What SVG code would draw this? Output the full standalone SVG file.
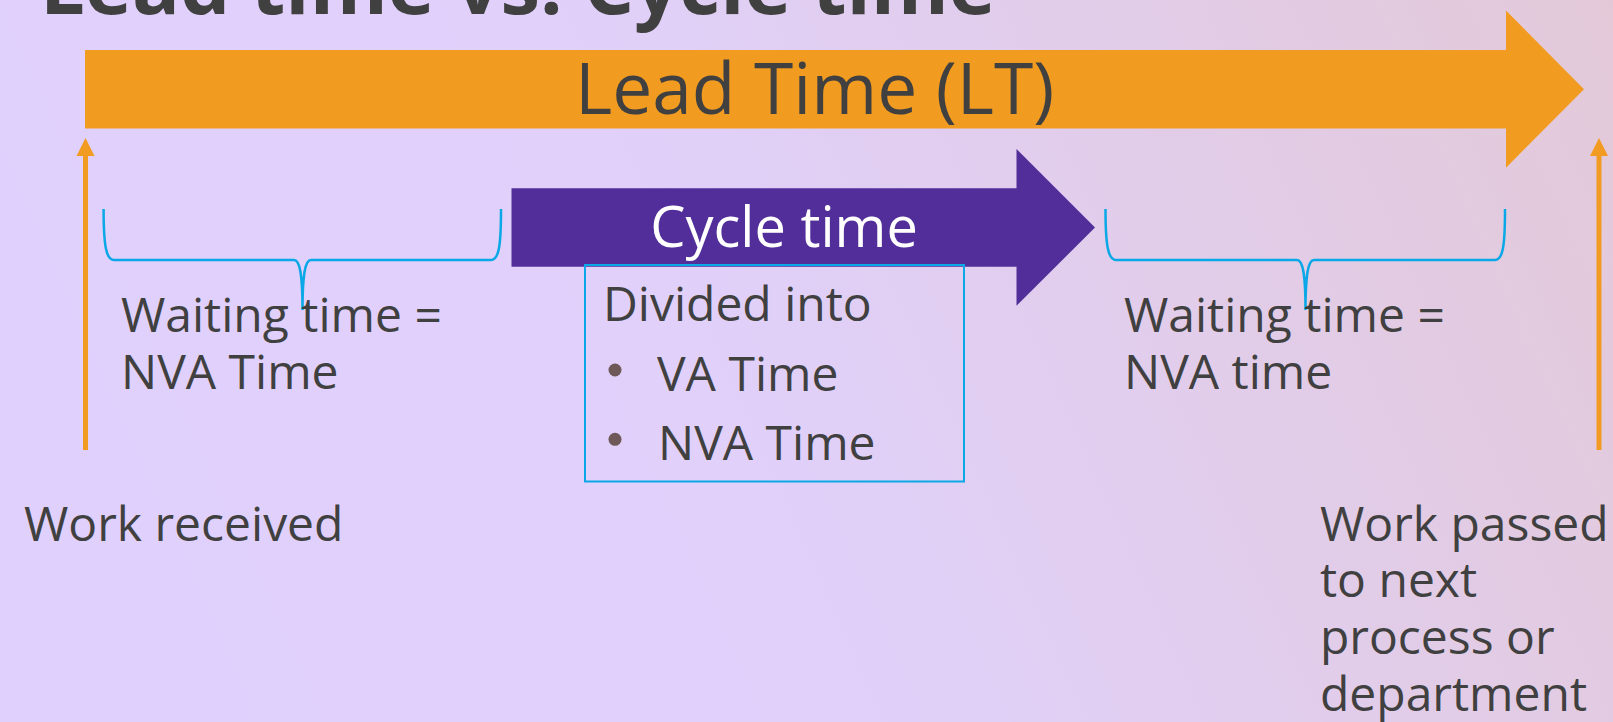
<svg xmlns="http://www.w3.org/2000/svg" width="1613" height="722" viewBox="0 0 1613 722">
<defs>
<linearGradient id="bg" x1="0" y1="722" x2="1613" y2="0" gradientUnits="userSpaceOnUse">
<stop offset="0" stop-color="#E0D0FD"/>
<stop offset="0.45" stop-color="#E0D0FA"/>
<stop offset="1" stop-color="#E3C9D8"/>
</linearGradient>
<style>
.t{font-family:"Open Sans","Noto Sans","Liberation Sans",sans-serif;fill:#404040;font-size:48px}
.brace{fill:none;stroke:#0AA8E6;stroke-width:2.5}
.vline{stroke:#F29B22;stroke-width:5}
.vhead{fill:#F29B22}
</style>
</defs>
<rect width="1613" height="722" fill="url(#bg)"/>
<text x="40" y="14" class="t" style="font-size:79.5px;font-weight:700" fill="#3F3F3F">Lead time vs. Cycle time</text>
<g id="lead-time">
<polygon points="85,50 1506,50 1506,10.5 1584,89.3 1506,167.7 1506,128.5 85,128.5" fill="#F29B21"/>
<text x="575" y="114" class="t" style="font-size:71.3px">Lead Time (LT)</text>
</g>
<g id="cycle-time">
<polygon points="511.5,188.3 1016.5,188.3 1016.5,149 1095,227.5 1016.5,305.7 1016.5,266.7 511.5,266.7" fill="#522E9A"/>
<text x="784" y="246.5" class="t" style="font-size:56px;fill:#FFFFFF" text-anchor="middle">Cycle time</text>
</g>
<g id="cycle-detail">
<rect x="585" y="265" width="379" height="216.5" fill="none" stroke="#0AA8E6" stroke-width="2"/>
<text x="603" y="320.5" class="t">Divided into</text>
<circle cx="615" cy="370" r="6.5" fill="#6F5858"/>
<text x="657" y="391" class="t">VA Time</text>
<circle cx="615" cy="439.3" r="6.5" fill="#6F5858"/>
<text x="658" y="460" class="t">NVA Time</text>
</g>
<g id="wait-left">
<path class="brace" d="M103.6,209 C103.6,245 106,260 114,260 L294,260 C300,260 302.5,275 302.5,310 C302.5,275 305,260 311,260 L491,260 C499,260 501,245 501,209"/>
<text x="121" y="331.5" class="t">Waiting time =</text>
<text x="121" y="388.5" class="t">NVA Time</text>
</g>
<g id="wait-right">
<path class="brace" d="M1105.5,209 C1105.5,245 1108,260 1116,260 L1297,260 C1303,260 1305.5,275 1305.5,310 C1305.5,275 1308,260 1314,260 L1495,260 C1503,260 1505,245 1505,209"/>
<text x="1124" y="331.5" class="t">Waiting time =</text>
<text x="1124" y="388.5" class="t">NVA time</text>
</g>
<g id="connectors">
<line class="vline" x1="85.5" y1="450" x2="85.5" y2="154"/>
<polygon class="vhead" points="85.5,138 94.5,156 76.5,156"/>
<line class="vline" x1="1599" y1="450" x2="1599" y2="154"/>
<polygon class="vhead" points="1599,138 1608,156 1590,156"/>
</g>
<g id="work-received">
<text x="24" y="540.5" class="t">Work received</text>
</g>
<g id="work-passed">
<text class="t"><tspan x="1320" y="541">Work passed</tspan><tspan x="1320" y="597">to next</tspan><tspan x="1320" y="654">process or</tspan><tspan x="1320" y="710.5">department</tspan></text>
</g>
</svg>
